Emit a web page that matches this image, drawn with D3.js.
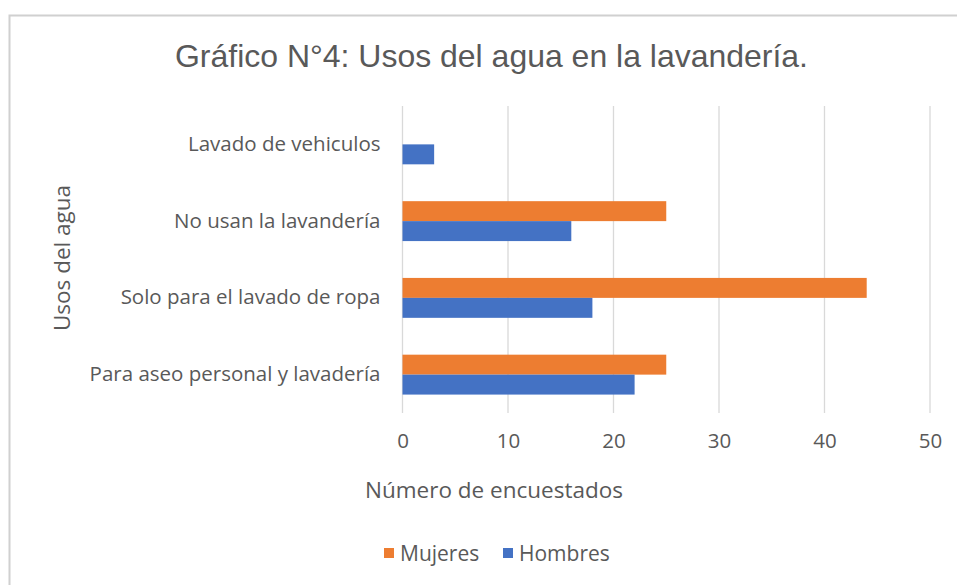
<!DOCTYPE html>
<html>
<head>
<meta charset="utf-8">
<script src="https://cdn.jsdelivr.net/npm/d3@7"></script>
<style>
  body { margin: 0; background: #fff; }
  svg text { fill: #595959; }
</style>
</head>
<body>
<div id="wrapper"></div>
<script>
// data
const categories = ["Lavado de vehiculos", "No usan la lavandería", "Solo para el lavado de ropa", "Para aseo personal y lavadería"]
const mujeres = [0, 25, 44, 25]
const hombres = [3, 16, 18, 22]
const seriesNames = ["Mujeres", "Hombres"]
const seriesColors = ["#ed7d31", "#4472c4"]
const xTicks = [0, 10, 20, 30, 40, 50]

const dimensions = {
    width: 957,
    height: 585,
    margin: { top: 106, right: 27, bottom: 172, left: 402.5 },
}
dimensions.boundedWidth = dimensions.width - dimensions.margin.left - dimensions.margin.right
dimensions.boundedHeight = dimensions.height - dimensions.margin.top - dimensions.margin.bottom

const svg = d3.select("#wrapper").append("svg")
    .attr("width", dimensions.width)
    .attr("height", dimensions.height)

// chart frame
svg.append("rect")
    .attr("x", 9.5).attr("y", 15.5)
    .attr("width", 1000).attr("height", 600)
    .attr("fill", "#fff")
    .attr("stroke", "#d0d0d0")
    .attr("stroke-width", 2)

svg.append("text")
    .attr("x", 491.5).attr("y", 67)
    .attr("text-anchor", "middle")
    .attr("textLength", 633)
    .attr("lengthAdjust", "spacingAndGlyphs")
    .style("font-family", "'Liberation Sans', Arial, sans-serif")
    .style("font-size", "32px")
    .text("Gráfico N°4: Usos del agua en la lavandería.")

const bounds = svg.append("g")
    .attr("transform", `translate(${dimensions.margin.left},${dimensions.margin.top})`)

const xScale = d3.scaleLinear()
    .domain([0, 50])
    .range([0, 527.5])

const yScale = d3.scaleBand()
    .domain(categories)
    .range([0, dimensions.boundedHeight])
    .paddingInner(0.48)
    .paddingOuter(0.24)

const inner = d3.scaleBand()
    .domain(seriesNames)
    .range([0, yScale.bandwidth()])

// gridlines
bounds.append("g").selectAll("line")
    .data(xTicks)
    .join("line")
    .attr("x1", d => xScale(d)).attr("x2", d => xScale(d))
    .attr("y1", 0).attr("y2", dimensions.boundedHeight)
    .attr("stroke", "#d9d9d9")
    .attr("stroke-width", 1.3)

const rows = categories.map((c, i) => ({ cat: c, values: [mujeres[i], hombres[i]] }))

bounds.append("g").selectAll("g")
    .data(rows)
    .join("g")
    .attr("transform", d => `translate(0,${yScale(d.cat)})`)
    .selectAll("rect")
    .data(d => d.values.map((v, j) => ({ name: seriesNames[j], v, color: seriesColors[j] })))
    .join("rect")
    .attr("x", xScale(0))
    .attr("y", d => inner(d.name))
    .attr("width", d => xScale(d.v) - xScale(0))
    .attr("height", inner.bandwidth())
    .attr("fill", d => d.color)

const labelFont = "'Open Sans', sans-serif"

// y axis
const yAxis = bounds.append("g")
    .call(d3.axisLeft(yScale).tickSize(0).tickPadding(22))
yAxis.select(".domain").remove()
yAxis.selectAll("text")
    .style("font-family", labelFont)
    .style("font-size", "20.5px")
    .style("fill", "#595959")

// x axis
const xAxis = bounds.append("g")
    .attr("transform", `translate(0,${dimensions.boundedHeight})`)
    .call(d3.axisBottom(xScale).tickValues(xTicks).tickSize(0).tickPadding(20))
xAxis.select(".domain").remove()
xAxis.selectAll("text")
    .style("font-family", labelFont)
    .style("font-size", "20.5px")
    .style("fill", "#595959")

svg.append("text")
    .attr("x", 494).attr("y", 498)
    .attr("text-anchor", "middle")
    .style("font-family", labelFont)
    .style("font-size", "22.5px")
    .text("Número de encuestados")

svg.append("text")
    .attr("transform", "translate(70,258) rotate(-90)")
    .attr("text-anchor", "middle")
    .style("font-family", labelFont)
    .style("font-size", "22.5px")
    .text("Usos del agua")

// legend
const legend = svg.append("g")
    .attr("transform", "translate(384,553)")
const item = legend.selectAll("g")
    .data(seriesNames)
    .join("g")
    .attr("transform", (d, i) => `translate(${i * 119},0)`)
item.append("rect")
    .attr("x", 0).attr("y", -5)
    .attr("width", 10).attr("height", 10)
    .attr("fill", (d, i) => seriesColors[i])
item.append("text")
    .attr("x", 16).attr("y", 7.5)
    .style("font-family", labelFont)
    .style("font-size", "21px")
    .text(d => d)
</script>
</body>
</html>
